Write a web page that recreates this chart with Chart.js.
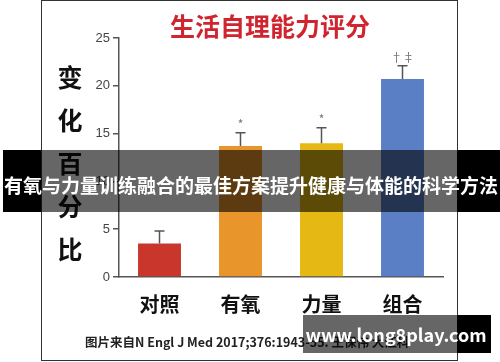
<!DOCTYPE html>
<html>
<head>
<meta charset="utf-8">
<script src="https://cdn.jsdelivr.net/npm/chart.js@4"></script>
<style>
  html, body { margin: 0; padding: 0; background: #fff; }
</style>
</head>
<body>
<canvas id="barChart" width="500" height="362"></canvas>
<script>
// data
var labels = ["对照", "有氧", "力量", "组合"];
var scores = [3.5, 13.7, 14.0, 20.7];
var errors = [1.3, 1.4, 1.6, 1.4];
var marks = ["", "*", "*", "†‡"];
var barColors = ['#c9372c', '#e8952b', '#e6b813', '#5a7fc5'];
var titleText = "生活自理能力评分";
var yTitle = ["变", "化", "百", "分", "比"];
var bannerText = "有氧与力量训练融合的最佳方案提升健康与体能的科学方法";
var sourceText = "图片来自N Engl J Med 2017;376:1943-55. 王保伟 大江科";
var siteText = "www.long8play.com";

var CJK = "'Noto Sans CJK SC', 'Noto Sans', sans-serif";

// frame, title, y label, source line
var backdrop = {
  id: 'backdrop',
  beforeDraw: function(chart) {
    var ctx = chart.ctx;
    ctx.save();
    ctx.fillStyle = '#fff';
    ctx.fillRect(0, 0, chart.width, chart.height);
    ctx.strokeStyle = '#333';
    ctx.lineWidth = 1;
    ctx.strokeRect(41.5, 0.5, 416, 360);

    ctx.fillStyle = '#d0242f';
    ctx.font = 'bold 25px ' + CJK;
    ctx.textAlign = 'center';
    ctx.textBaseline = 'middle';
    ctx.fillText(titleText, 270, 26);

    ctx.fillStyle = '#111';
    ctx.font = 'bold 25px ' + CJK;
    yTitle.forEach(function(ch, i) {
      ctx.fillText(ch, 70, 77 + i * 43);
    });

    ctx.fillStyle = '#222';
    ctx.font = 'bold 12.5px ' + CJK;
    ctx.textAlign = 'left';
    ctx.fillText(sourceText, 85, 342);
    ctx.restore();
  }
};

// error bars + significance marks
var errorBars = {
  id: 'errorBars',
  afterDatasetsDraw: function(chart) {
    var ctx = chart.ctx;
    var meta = chart.getDatasetMeta(0);
    var y = chart.scales.y;
    ctx.save();
    ctx.strokeStyle = '#555';
    ctx.lineWidth = 1.5;
    meta.data.forEach(function(bar, i) {
      var top = y.getPixelForValue(scores[i] + errors[i]);
      ctx.beginPath();
      ctx.moveTo(bar.x, bar.y);
      ctx.lineTo(bar.x, top);
      ctx.moveTo(bar.x - 5, top);
      ctx.lineTo(bar.x + 5, top);
      ctx.stroke();
      if (marks[i]) {
        ctx.fillStyle = '#777';
        ctx.font = '12px ' + CJK;
        ctx.textAlign = 'center';
        ctx.textBaseline = 'middle';
        ctx.fillText(marks[i], bar.x, top - 8);
      }
    });
    ctx.restore();
  }
};

// overlay banner and site box
var overlays = {
  id: 'overlays',
  afterDraw: function(chart) {
    var ctx = chart.ctx;
    ctx.save();
    ctx.fillStyle = '#000';
    ctx.fillRect(3, 150, 38, 62);
    ctx.fillRect(457, 150, 43, 62);
    ctx.fillStyle = 'rgba(0,0,0,0.6)';
    ctx.fillRect(41, 150, 416, 62);
    ctx.fillStyle = '#fff';
    ctx.font = 'bold 19px ' + CJK;
    ctx.textAlign = 'center';
    ctx.textBaseline = 'middle';
    ctx.fillText(bannerText, 251, 186);

    ctx.fillStyle = 'rgba(0,0,0,0.6)';
    ctx.fillRect(303, 315, 154, 38);
    ctx.fillStyle = '#000';
    ctx.fillRect(457, 315, 34, 38);
    ctx.fillStyle = '#fff';
    ctx.font = 'bold 18px ' + CJK;
    ctx.fillText(siteText, 396, 335);
    ctx.restore();
  }
};

var ctxB = document.getElementById("barChart").getContext('2d');
var myBarChart = new Chart(ctxB, {
  type: 'bar',
  data: {
    labels: labels,
    datasets: [{
      label: "score",
      data: scores,
      backgroundColor: barColors,
      borderWidth: 0,
      categoryPercentage: 1,
      barPercentage: 0.53
    }]
  },
  options: {
    responsive: false,
    animation: false,
    layout: { padding: { top: 38, right: 57, left: 0, bottom: 0 } },
    plugins: {
      legend: { display: false },
      tooltip: { enabled: false }
    },
    scales: {
      x: {
        afterFit: function(s) { s.height = 85; },
        grid: { drawOnChartArea: false, drawTicks: false },
        border: { display: true, color: '#555', width: 1.5 },
        ticks: {
          color: '#111',
          padding: 15,
          font: { family: CJK, size: 20, weight: 'bold' }
        }
      },
      y: {
        min: 0,
        max: 25,
        afterFit: function(s) { s.width = 119; },
        grid: { drawOnChartArea: false, drawTicks: true, tickLength: 6, color: '#555', lineWidth: 1.5 },
        border: { display: true, color: '#555', width: 1.5 },
        ticks: {
          stepSize: 5,
          color: '#444',
          padding: 3,
          font: { family: "'Liberation Sans', Arial, sans-serif", size: 13 }
        }
      }
    }
  },
  plugins: [backdrop, errorBars, overlays]
});
</script>
</body>
</html>
